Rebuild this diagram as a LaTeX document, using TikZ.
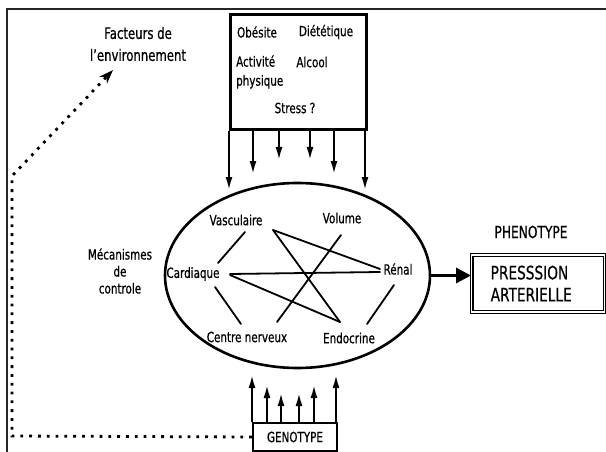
\documentclass[tikz,border=0pt]{standalone}
\usepackage{fontspec}
\setmainfont{DejaVu Sans}[FakeStretch=0.74,FakeBold=0.6]
\usetikzlibrary{arrows.meta,shapes.geometric,calc}
\begin{document}
\begin{tikzpicture}[x=1pt,y=-1pt,
  lbl/.style={inner sep=1pt, font=\fontsize{14}{16}\selectfont},
  link/.style={line width=1.8pt, line cap=round},
  downarrow/.style={line width=2pt, -{Latex[length=13pt,width=7pt]}},
  uparrow/.style={line width=2pt, -{Latex[length=13pt,width=7pt]}},
  dotline/.style={line width=2.8pt, dash pattern=on 2.8pt off 6pt},
  ]
\useasboundingbox (0,0) rectangle (606,452);
\fill[white] (0,0) rectangle (606,452);
% frame
\coordinate (fr1) at (606,9);
\coordinate (fr2) at (7,9);
\coordinate (fr3) at (7,452);
\draw[line width=2pt, black!85] (fr1) -- (fr2) -- (fr3);

% environment box
\node[draw, line width=2.8pt, minimum width=136pt, minimum height=115pt, inner sep=0pt, anchor=north west] (env) at (229,13) {};
\node[lbl] (obe) at (257,32) {Obésite};
\node[lbl] (die) at (326,32) {Diététique};
\node[lbl, align=left, anchor=west, font=\fontsize{14}{19}\selectfont] (act) at (235,72) {Activité\\physique};
\node[lbl] (alc) at (312,62) {Alcool};
\node[lbl] (str) at (295,108) {Stress ?};

% down arrows
\coordinate (d1) at (229,190);
\coordinate (d2) at (253,174);
\coordinate (d3) at (279,160);
\coordinate (d4) at (310,160);
\coordinate (d5) at (334,174);
\coordinate (d6) at (365,190);
\foreach \d in {d1,d2,d3,d4,d5,d6}
  \draw[downarrow] (\d |- env.south) -- (\d);

% ellipse
\node[draw, ellipse, line width=2.6pt, minimum width=265pt, minimum height=185pt, inner sep=0pt] (ell) at (297.5,275.5) {};

\node[lbl] (vas) at (236,220) {Vasculaire};
\node[lbl] (vol) at (342,218) {Volume};
\node[lbl] (car) at (193,274) {Cardiaque};
\node[lbl] (ren) at (398,269) {Rénal};
\node[lbl] (cn) at (247,337) {Centre nerveux};
\node[lbl] (endo) at (349,338) {Endocrine};

\draw[link] ($(vas)+(9,12)$) -- ($(car)+(25,-11)$);
\draw[link] ($(vas)+(37,10)$) -- ($(ren)+(-18,0)$);
\draw[link] ($(vas)+(37,10)$) -- ($(endo)+(-9,-16)$);
\draw[link] ($(vol)+(-1,17)$) -- ($(cn)+(30,-15)$);
\draw[link] ($(car)+(37,0)$) -- ($(ren)+(-18,3)$);
\draw[link] ($(car)+(37,1)$) -- ($(endo)+(-9,-16)$);
\draw[link] ($(car)+(22,13)$) -- ($(cn)+(-6,-13)$);
\draw[link] ($(ren)+(-4,16)$) -- ($(endo)+(18,-14)$);

% left labels
\node[align=center, font=\fontsize{14}{17}\selectfont] (mec) at (120,271) {Mécanismes\\de\\controle};
\node[align=center, font=\fontsize{15.8}{22}\selectfont] (fac) at (138,44) {Facteurs de\\l’environnement};

% phenotype
\node[font=\fontsize{16.5}{18}\selectfont] (phe) at (531,232) {PHENOTYPE};
\node[draw, double, line width=1.4pt, double distance=1.2pt, align=left, text width=95pt, inner xsep=19pt, minimum height=57pt, font=\fontsize{18.5}{22}\selectfont, anchor=west] (pa) at (471,283.5) {PRESSSION\\ARTERIELLE};
\draw[line width=3.2pt, -{Triangle[length=15pt,width=15pt]}] (ell.east) -- (ell.east -| pa.west);

% genotype
\node[draw, line width=2pt, minimum width=84pt, minimum height=28pt, inner sep=0pt, font=\fontsize{14}{15}\selectfont, anchor=north west] (gen) at (252,422) {GENOTYPE};
\coordinate (u1) at (252,375);
\coordinate (u2) at (267,385);
\coordinate (u3) at (281,393);
\coordinate (u4) at (299,393);
\coordinate (u5) at (314,385);
\coordinate (u6) at (336,375);
\foreach \u in {u1,u2,u3,u4,u5,u6}
  \draw[uparrow] (\u |- gen.north) -- (\u);

% dotted feedback
\coordinate (c1) at (12,436);
\coordinate (c2) at (12,176);
\coordinate (c3) at (113,70);
\draw[dotline, -{Stealth[length=14pt,width=10pt]}] (gen.west) -- (c1) -- (c2) -- (c3);
\end{tikzpicture}
\end{document}
